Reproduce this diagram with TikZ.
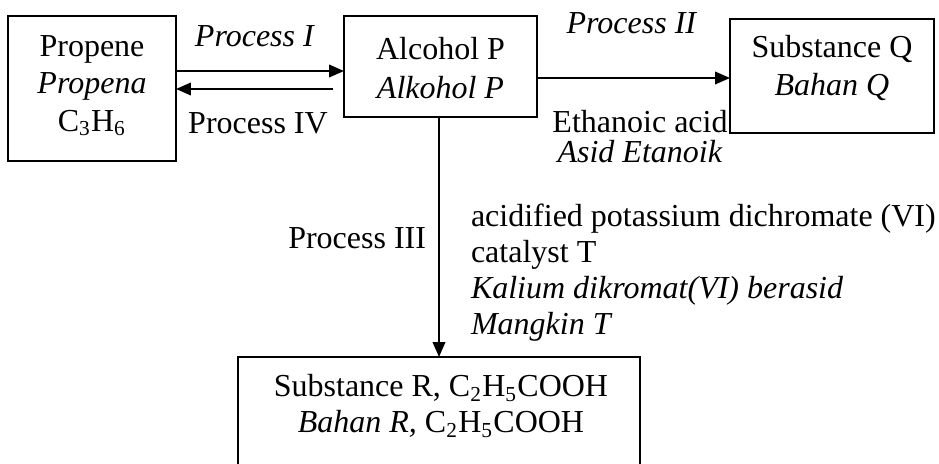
\documentclass[tikz,border=0pt]{standalone}
\usepackage{fontspec}
\setmainfont{Liberation Serif}
\usetikzlibrary{arrows.meta}
\begin{document}
\begin{tikzpicture}[x=0.375pt,y=-0.375pt,
  box/.style={draw,line width=0.75pt,inner sep=0pt,outer sep=0pt},
  txt/.style={inner sep=0pt,outer sep=0pt,font=\fontsize{12pt}{13.9pt}\selectfont,align=center},
  conn/.style={line width=0.75pt,-{Triangle[length=5.6pt,width=4.7pt]}}]
\useasboundingbox (0,0) rectangle (939,464);
% boxes
\node[box,minimum width=63pt,minimum height=54.375pt] (propene) at (92,88.5) {};
\node[box,minimum width=72.375pt,minimum height=37.875pt] (alcohol) at (440.5,66.5) {};
\node[box,minimum width=76.5pt,minimum height=42.75pt] (Q) at (832,76) {};
\node[box,minimum width=150.75pt,minimum height=44.25pt] (R) at (439,416) {};
% box texts
\node[txt] (propenetxt) at (92,86) {Propene\\\textit{Propena}\\C\textsubscript{3}H\textsubscript{6}};
\node[txt,font=\fontsize{12pt}{14.6pt}\selectfont] (alcoholtxt) at (440.5,68) {Alcohol P\\\textit{Alkohol P}};
\node[txt,font=\fontsize{12pt}{14.6pt}\selectfont] (Qtxt) at (832,68) {Substance Q\\\textit{Bahan Q}};
\node[txt,font=\fontsize{12pt}{13.5pt}\selectfont] (Rtxt) at (441,406) {Substance R, C\textsubscript{2}H\textsubscript{5}COOH\\\textit{Bahan R,} C\textsubscript{2}H\textsubscript{5}COOH};
% helper coordinates
\coordinate (y71) at (0,71);
\coordinate (y89) at (0,89);
\coordinate (y78) at (0,78);
\coordinate (ivstart) at (333,89);
% connectors
\draw[conn] (propene.east |- y71) -- (alcohol.west |- y71);
\draw[conn] (ivstart) -- (propene.east |- y89);
\draw[conn] (alcohol.east |- y78) -- (Q.west |- y78);
\draw[conn] (R.north |- alcohol.south) -- (R.north);
% labels
\node[txt] (p1) at (255,36) {\textit{Process I}};
\node[txt] (p4) at (258,123) {Process IV};
\node[txt] (p2) at (632,23) {\textit{Process II}};
\node[txt] (eth) at (640,122) {Ethanoic acid};
\node[txt] (asid) at (640,152) {\textit{Asid Etanoik}};
\node[txt,anchor=east] (p3) at (426,238) {Process III};
\node[txt,anchor=west,align=left,font=\fontsize{12pt}{13.5pt}\selectfont] (cond) at (471,273) {acidified potassium dichromate (VI)\\catalyst T\\\textit{Kalium dikromat(VI) berasid}\\\textit{Mangkin T}};
\end{tikzpicture}
\end{document}
